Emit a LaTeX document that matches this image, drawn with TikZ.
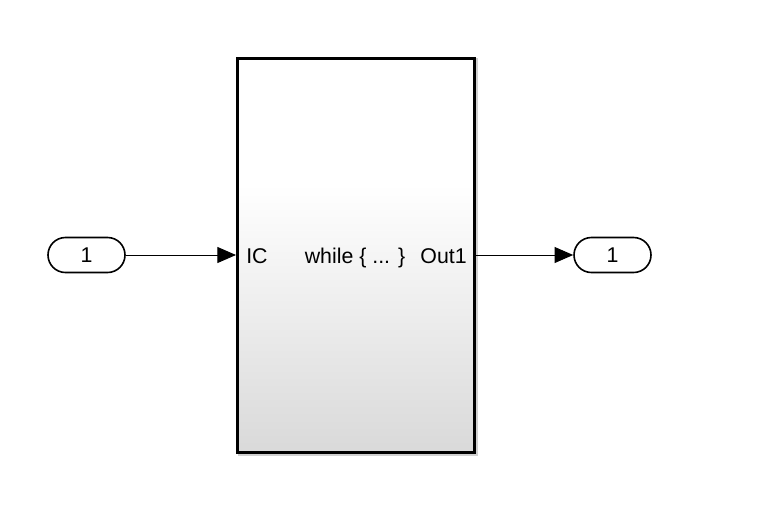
\documentclass[tikz,border=0pt]{standalone}
\usepackage{fontspec}
\setmainfont{Liberation Sans}
\usetikzlibrary{arrows.meta}
\definecolor{blkgray}{HTML}{D9D9D9}
\definecolor{shadowgray}{HTML}{D0D0D0}
\pgfdeclareverticalshading{blkshade}{100bp}{color(0bp)=(blkgray); color(25bp)=(blkgray); color(59bp)=(white); color(100bp)=(white)}
\tikzset{
  port/.style={draw, line width=1.2pt, rounded corners=13.1pt, minimum width=57.75pt, minimum height=26.25pt, inner sep=0pt, font=\fontsize{16}{18}\selectfont},
  blockbox/.style={draw, line width=2.25pt, shading=blkshade, minimum width=177.75pt, minimum height=296pt, inner sep=0pt},
  shadowbox/.style={draw=shadowgray, line width=2.25pt, minimum width=177.75pt, minimum height=296pt, inner sep=0pt},
  sig/.style={line width=0.75pt, -{Triangle[length=14pt, width=12pt]}},
  lbl/.style={font=\fontsize{16}{18}\selectfont, inner sep=0pt, anchor=base}
}
\begin{document}
\begin{tikzpicture}[x=0.75pt, y=-0.75pt]
\useasboundingbox (0,0) rectangle (763,525);
\node[port] (in1) at (86.5,255) {1};
\node[shadowbox] (shd) at (358,257) {};
\node[blockbox] (blk) at (356,255.5) {};
\node[lbl, anchor=base west] (ic) at (246,263) {IC};
\node[lbl] (wh) at (355,263) {while \{ ... \}};
\node[lbl, anchor=base east] (o1) at (467,263) {Out1};
\node[port] (out1) at (612.5,255) {1};
\draw[sig] (in1.east) -- (in1.east -| blk.west);
\draw[sig] (blk.east |- out1.west) -- (out1.west);
\end{tikzpicture}
\end{document}
